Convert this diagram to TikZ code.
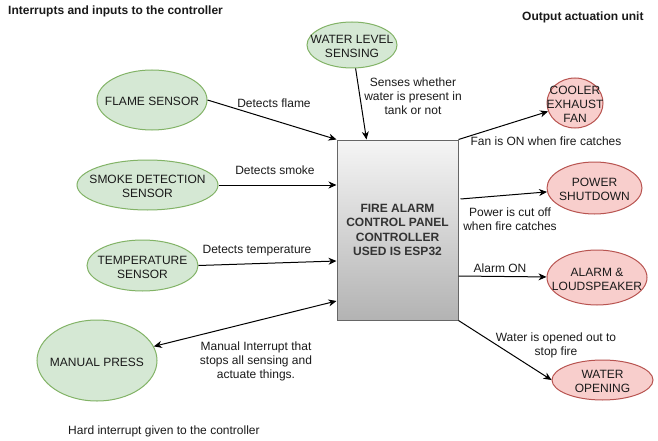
\documentclass[tikz,border=0pt]{standalone}
\usepackage{fontspec}
\setmainfont{Liberation Sans}
\usetikzlibrary{shapes.geometric,arrows.meta,calc}
\definecolor{gfill}{HTML}{D5E8D4}
\definecolor{gline}{HTML}{82B366}
\definecolor{rfill}{HTML}{F8CECC}
\definecolor{rline}{HTML}{B85450}
\definecolor{boxtop}{HTML}{F5F5F5}
\definecolor{boxbot}{HTML}{B3B3B3}
\definecolor{boxline}{HTML}{666666}
\definecolor{txt}{HTML}{1A1A1A}
\definecolor{boxtxt}{HTML}{333333}
\newcommand\ellTxt[1]{\makebox[0pt]{\smash{\raisebox{-6pt}{\begin{tabular}{@{}c@{}}#1\end{tabular}}}}}
\begin{document}
\begin{tikzpicture}[x=1pt,y=-1pt,
  font=\fontsize{12}{14}\selectfont,
  every node/.style={text=txt},
  insens/.style={ellipse,draw=gline,fill=gfill,line width=1pt,inner sep=0pt},
  outact/.style={ellipse,draw=rline,fill=rfill,line width=1pt,inner sep=0pt},
  ctrl/.style={rectangle,draw=boxline,line width=1pt,top color=boxtop,bottom color=boxbot,
    minimum width=121pt,minimum height=180pt,inner sep=0pt,align=center,
    font=\fontsize{12}{14.5}\selectfont\bfseries,text=boxtxt},
  lbl/.style={align=center,inner sep=0pt},
  ttl/.style={inner sep=0pt,anchor=west},
  conn/.style={line width=1pt,-{Stealth[length=8pt,width=7pt,inset=2.5pt]}},
  conn2/.style={line width=1pt,{Stealth[length=8pt,width=7pt,inset=2.5pt]}-{Stealth[length=8pt,width=7pt,inset=2.5pt]}}
]
\useasboundingbox (0,0) rectangle (658,441);
\fill[white] (0,0) rectangle (658,441);

% titles
\node[ttl,font=\fontsize{12}{14}\selectfont\bfseries] (t1) at (8,11) {Interrupts and inputs to the controller};
\node[ttl,font=\fontsize{12}{14}\selectfont\bfseries] (t2) at (522,17) {Output actuation unit};
\node[ttl] (t3) at (68,431) {Hard interrupt given to the controller};

% controller
\node[ctrl] (box) at (397.5,230) {FIRE ALARM\\CONTROL PANEL\\CONTROLLER\\USED IS ESP32};

% inputs
\node[insens,minimum width=90pt,minimum height=46pt] (wl) at (352,45) {\ellTxt{WATER LEVEL\\SENSING}};
\node[insens,minimum width=110pt,minimum height=60pt] (flame) at (152,100) {\ellTxt{FLAME SENSOR}};
\node[insens,minimum width=141pt,minimum height=50pt] (smoke) at (147.5,185) {\ellTxt{SMOKE DETECTION\\SENSOR}};
\node[insens,minimum width=111pt,minimum height=51pt] (temp) at (142.5,265.5) {\ellTxt{TEMPERATURE\\SENSOR}};
\node[insens,minimum width=120pt,minimum height=81pt] (man) at (97,360.5) {\ellTxt{MANUAL PRESS}};

% outputs
\node[outact,minimum width=56pt,minimum height=50pt] (cool) at (575,103) {\ellTxt{COOLER\\EXHAUST\\FAN}};
\node[outact,minimum width=95pt,minimum height=52pt] (pow) at (594.5,188) {\ellTxt{POWER\\SHUTDOWN}};
\node[outact,minimum width=100pt,minimum height=55pt] (alarm) at (597,277.5) {\ellTxt{ALARM \&\\LOUDSPEAKER}};
\node[outact,minimum width=101pt,minimum height=40pt] (wo) at (602.5,380) {\ellTxt{WATER\\OPENING}};

% connectors in
\draw[conn] (flame.east) -- (box.north west);
\draw[conn] (smoke.east) -- ([yshift=45pt]box.west);
\draw[conn] (temp.east) -- ([yshift=-31pt]box.west);
\draw[conn2] ([yshift=-71pt]box.west) -- (man);
\draw[conn] (wl) -- ([xshift=-31pt]box.north);

% connectors out
\draw[conn] (box.north east) -- (cool);
\draw[conn] ([xshift=2pt,yshift=31pt]box.east) -- (pow);
\draw[conn] ([yshift=-46pt]box.east) -- (alarm);
\draw[conn] (box.south east) -- (wo.west);

% labels
\node[lbl] (lflame) at (274,103) {Detects flame};
\node[lbl] (lsmoke) at (275,170) {Detects smoke};
\node[lbl] (ltemp) at (257,251) {Detects temperature};
\node[lbl] (lman) at (256,361) {Manual Interrupt that\\stops all sensing and\\actuate things.};
\node[lbl] (lwl) at (413,96) {Senses whether\\water is present in\\tank or not};
\node[lbl] (lcool) at (546,141) {Fan is ON when fire catches};
\node[lbl] (lpow) at (510,219) {Power is cut off\\when fire catches};
\node[lbl] (lalarm) at (500,268) {Alarm ON};
\node[lbl] (lwo) at (556,345) {Water is opened out to\\stop fire};
\end{tikzpicture}
\end{document}
